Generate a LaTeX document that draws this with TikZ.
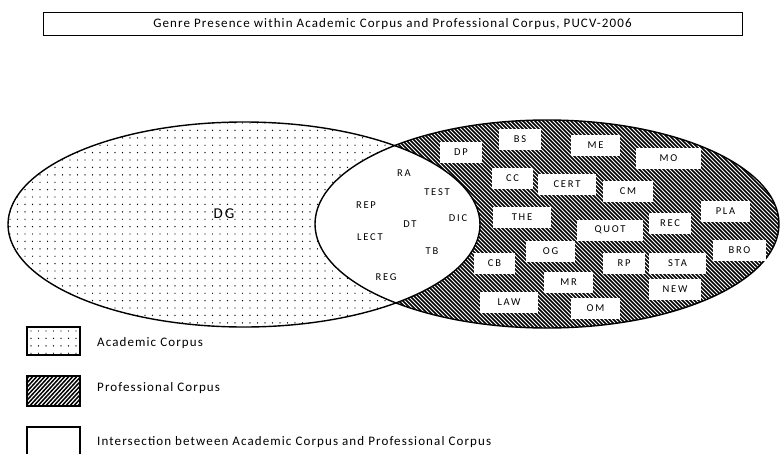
\documentclass[tikz,border=0pt]{standalone}
\usepackage{fontspec}
\setmainfont{Carlito}[LetterSpace=8.5]
\newfontfamily\labfont{Carlito}[LetterSpace=17]
\newfontfamily\bigfont{Carlito}[LetterSpace=14]
\begin{document}
\begin{tikzpicture}[x=1pt,y=-1pt,
  lbl/.style={font=\labfont\fontsize{10.5}{12}\selectfont, inner sep=0pt},
  tag/.style={fill=white, draw=none, minimum height=21pt, font=\labfont\fontsize{10.5}{12}\selectfont, inner sep=0pt},
  legtxt/.style={font=\fontsize{13}{15}\selectfont, anchor=west, inner sep=0pt},
  swatch/.style={draw=black, line width=1.4pt},
  outline/.style={draw=black, line width=1.4pt}]
\useasboundingbox (0,0) rectangle (782,453);

% title
\node[draw, line width=0.6pt, minimum width=699pt, minimum height=23pt, inner sep=0pt,
      font=\fontsize{13}{15}\selectfont] (title) at (392.5,24)
  {Genre Presence within Academic Corpus and Professional Corpus, PUCV-2006};

% academic corpus: dotted
\begin{scope}
  \clip (244,224.5) ellipse [x radius=236, y radius=102.5];
  \foreach \yy in {0,...,28} {
    \foreach \xx in {0,...,64} {
      \fill (10+\xx*7.5, 123+\yy*7.4) circle [radius=0.7];
    }
  }
\end{scope}

% professional corpus: hatched
\begin{scope}
  \clip (547,224) ellipse [x radius=232, y radius=104];
  \fill[white] (547,224) ellipse [x radius=232, y radius=104];
  \foreach \k in {0,...,175} {
    \draw[line width=1.7pt] (100+\k*4, 110) -- (330+\k*4, 340);
  }
\end{scope}

% intersection: blank
\begin{scope}
  \clip (244,224.5) ellipse [x radius=236, y radius=102.5];
  \fill[white] (547,224) ellipse [x radius=232, y radius=104];
\end{scope}

% outlines
\draw[outline] (244,224.5) ellipse [x radius=236, y radius=102.5];
\draw[outline] (547,224) ellipse [x radius=232, y radius=104];

% academic only
\node[font=\bigfont\fontsize{15}{17}\selectfont, inner sep=0pt] (dg) at (224,214) {DG};

% intersection genres
\node[lbl] (ra) at (404,173) {RA};
\node[lbl] (test) at (437,192) {TEST};
\node[lbl] (dic) at (458,218) {DIC};
\node[lbl] (dt) at (410,224) {DT};
\node[lbl] (tb) at (432,251) {TB};
\node[lbl] (rep) at (366,205) {REP};
\node[lbl] (lect) at (370,237) {LECT};
\node[lbl] (reg) at (386,277) {REG};

% professional only
\node[tag, minimum width=42pt] (dp) at (461,152.5) {DP};
\node[tag, minimum width=42pt] (bs) at (520,139.5) {BS};
\node[tag, minimum width=49pt] (me) at (595.5,145.5) {ME};
\node[tag, minimum width=65pt] (mo) at (668.5,158) {MO};
\node[tag, minimum width=41pt] (cc) at (512.5,178) {CC};
\node[tag, minimum width=58pt] (cert) at (567,184) {CERT};
\node[tag, minimum width=50pt] (cm) at (628,191.5) {CM};
\node[tag, minimum width=49pt] (pla) at (725.5,211) {PLA};
\node[tag, minimum width=58pt] (the) at (522,217.5) {THE};
\node[tag, minimum width=66pt] (quot) at (610,230) {QUOT};
\node[tag, minimum width=42pt] (rec) at (670,223) {REC};
\node[tag, minimum width=53pt] (bro) at (739.5,250.5) {BRO};
\node[tag, minimum width=49pt] (og) at (550.5,251) {OG};
\node[tag, minimum width=41pt] (cb) at (494.5,263.5) {CB};
\node[tag, minimum width=42pt] (rp) at (624,263.5) {RP};
\node[tag, minimum width=57pt] (sta) at (677.5,263.5) {STA};
\node[tag, minimum width=49pt] (mr) at (568.5,282.5) {MR};
\node[tag, minimum width=52pt] (new) at (675,289) {NEW};
\node[tag, minimum width=58pt] (law) at (509,302.5) {LAW};
\node[tag, minimum width=49pt] (om) at (595.5,308) {OM};

% legend
\begin{scope}
  \clip (27,327) rectangle (80,355);
  \foreach \yy in {0,...,3} {
    \foreach \xx in {0,...,6} {
      \fill (31+\xx*7.5, 331+\yy*7.4) circle [radius=0.7];
    }
  }
\end{scope}
\draw[swatch] (27,327) rectangle (80,355);
\node[legtxt] (acad) at (97,343) {Academic Corpus};

\begin{scope}
  \clip (27,376) rectangle (80,406);
  \foreach \k in {0,...,22} {
    \draw[line width=1.5pt] (-10+\k*4, 410) -- (25+\k*4, 372);
  }
\end{scope}
\draw[swatch] (27,376) rectangle (80,406);
\node[legtxt] (prof) at (97,388) {Professional Corpus};

\draw[swatch] (27,455) -- (27,427) -- (80,427) -- (80,455);
\node[legtxt] (inter) at (97,442) {Intersection between Academic Corpus and Professional Corpus};
\end{tikzpicture}
\end{document}
